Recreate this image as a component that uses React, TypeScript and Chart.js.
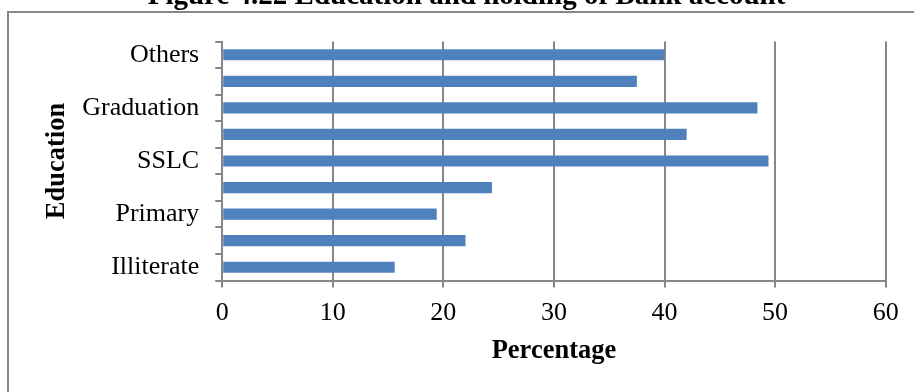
import React, { useEffect, useRef } from "react";
import { Chart, registerables } from "chart.js";

Chart.register(...registerables);

// Categories listed bottom-to-top as they appear in the chart
const categories = [
  "Illiterate",
  "Literate",
  "Primary",
  "Middle School",
  "SSLC",
  "PUC",
  "Graduation",
  "Post Graduation",
  "Others",
];
const percentages = [15.6, 22.0, 19.4, 24.4, 49.4, 42.0, 48.4, 37.5, 40.0];
const xTicks = [0, 10, 20, 30, 40, 50, 60];

const chartTitle = "Figure 4.22 Education and holding of Bank account";
const xTitle = "Percentage";
const yTitle = "Education";

const SERIF = "'Liberation Serif', 'Times New Roman', Times, serif";
const GRID = "#878787";

export default function App() {
  const canvasRef = useRef<HTMLCanvasElement | null>(null);

  useEffect(() => {
    if (!canvasRef.current) return;
    const chart = new Chart(canvasRef.current, {
      type: "bar",
      data: {
        labels: categories,
        datasets: [
          {
            data: percentages,
            backgroundColor: "#4F81BD",
            borderWidth: 0,
            categoryPercentage: 1,
            barPercentage: 0.42,
          },
        ],
      },
      options: {
        indexAxis: "y",
        animation: false,
        responsive: false,
        maintainAspectRatio: false,
        layout: { padding: { top: 41.5, right: 28.3, bottom: 0, left: 0 } },
        plugins: {
          legend: { display: false },
          tooltip: { enabled: false },
          title: { display: false },
        },
        scales: {
          x: {
            type: "linear",
            position: "bottom",
            min: xTicks[0],
            max: xTicks[xTicks.length - 1],
            afterBuildTicks: (scale: any) => {
              scale.ticks = xTicks.map((v) => ({ value: v }));
            },
            afterFit: (scale: any) => {
              scale.height = 111.5;
            },
            grid: {
              display: true,
              color: GRID,
              lineWidth: 2,
              drawTicks: true,
              tickLength: 7,
              tickColor: GRID,
            },
            border: { display: true, color: GRID, width: 2 },
            ticks: {
              color: "#000",
              padding: 10,
              font: { family: SERIF, size: 26 },
            },
            title: {
              display: true,
              text: xTitle,
              color: "#000",
              padding: { top: 0, bottom: 25 },
              font: { family: SERIF, size: 26.5, weight: "bold" },
            },
          },
          y: {
            type: "category",
            position: "left",
            reverse: true,
            afterFit: (scale: any) => {
              scale.width = 222.2;
            },
            grid: {
              display: true,
              offset: true,
              drawOnChartArea: false,
              drawTicks: true,
              tickLength: 7,
              color: GRID,
              tickColor: GRID,
              lineWidth: 2,
            },
            border: { display: true, color: GRID, width: 2 },
            ticks: {
              autoSkip: false,
              color: "#000",
              padding: 16,
              font: { family: SERIF, size: 26 },
              callback: (_v: any, idx: number) =>
                idx % 2 === 0 ? categories[idx] : "",
            },
            title: {
              display: true,
              text: yTitle,
              color: "#000",
              padding: { top: 41.6, bottom: 0 },
              font: { family: SERIF, size: 26.5, weight: "bold" },
            },
          },
        },
      },
    } as any);
    return () => chart.destroy();
  }, []);

  return (
    <div
      style={{
        position: "absolute",
        left: 0,
        top: 0,
        width: 914,
        height: 392,
        overflow: "hidden",
        background: "#fff",
      }}
    >
      <div
        style={{
          position: "absolute",
          left: 7,
          top: 11,
          width: 1200,
          height: 800,
          border: "2px solid #878787",
          boxSizing: "border-box",
        }}
      />
      <canvas
        ref={canvasRef}
        width={914}
        height={392}
        style={{ position: "absolute", left: 0, top: 0, width: 914, height: 392 }}
      />
      <div
        style={{
          position: "absolute",
          left: 466.5,
          top: -19.8,
          transform: "translateX(-50%)",
          whiteSpace: "nowrap",
          fontFamily: SERIF,
          fontWeight: "bold",
          fontSize: 29,
          lineHeight: "29px",
          color: "#000",
        }}
      >
        {chartTitle}
      </div>
    </div>
  );
}
